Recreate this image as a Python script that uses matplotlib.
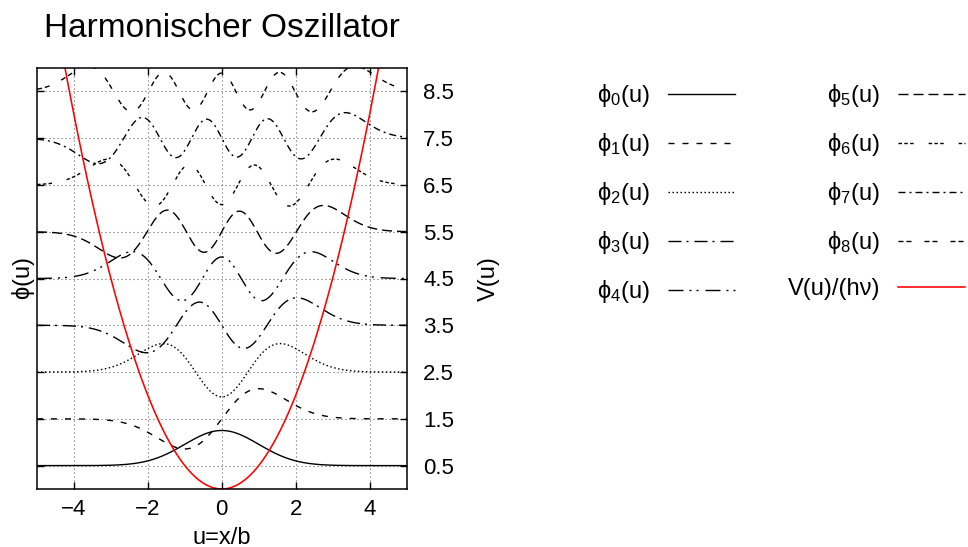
import numpy as np
import matplotlib
matplotlib.use("Agg")
import matplotlib.pyplot as plt
from math import factorial, pi, sqrt

plt.rcParams['font.family'] = ['Liberation Sans', 'DejaVu Sans']
plt.rcParams['mathtext.fontset'] = 'custom'
plt.rcParams['mathtext.rm'] = 'Liberation Sans'
plt.rcParams['mathtext.it'] = 'Liberation Sans'
plt.rcParams['lines.scale_dashes'] = False

# quantum numbers and energy levels E_n / (h nu) = n + 1/2
levels = [0, 1, 2, 3, 4, 5, 6, 7, 8]
energies = [0.5, 1.5, 2.5, 3.5, 4.5, 5.5, 6.5, 7.5, 8.5]
u_min, u_max = -5.0, 5.0
x_ticks = [-4, -2, 0, 2, 4]
y_ticks = [0.5, 1.5, 2.5, 3.5, 4.5, 5.5, 6.5, 7.5, 8.5]

PX = 0.72  # points per pixel at dpi 100
# dash patterns (in pixels) for phi_0 .. phi_8
dash_px = [
    None,
    (6, 8),
    (1.5, 2.5),
    (13, 5, 2, 6),
    (15, 6, 2, 5, 2, 7),
    (10, 5),
    (3.5, 2.3, 3.5, 2.3, 3.5, 15),
    (7, 4, 2, 4),
    (5, 3, 5, 13),
]


def hermite_function(n, u):
    h_prev = np.ones_like(u)
    if n == 0:
        h = h_prev
    else:
        h = 2 * u
        for k in range(1, n):
            h, h_prev = 2 * u * h - 2 * k * h_prev, h
    norm = 1.0 / sqrt(2 ** n * factorial(n) * sqrt(pi))
    return norm * h * np.exp(-u ** 2 / 2)


u = np.linspace(u_min, u_max, 1201)

fig = plt.figure(figsize=(9.68, 5.47), dpi=100)
ax = fig.add_axes([37 / 968, 1 - 489 / 547, (406.5 - 37) / 968, (489 - 68) / 547])

for n, e, d in zip(levels, energies, dash_px):
    ls = '-' if d is None else (0, tuple(v * PX for v in d))
    ax.plot(u, e + hermite_function(n, u), color='black', lw=1.0, ls=ls,
            label=r'$\mathrm{\phi}_{%d}$(u)' % n)
ax.plot(u, u ** 2 / 2, color='#ff0000', lw=1.15, label='V(u)/(hν)')

ax.set_xlim(u_min, u_max)
ax.set_ylim(0, 9)
ax.set_xticks(x_ticks)
ax.set_yticks(y_ticks)
ax.grid(True, color='#555555', lw=0.8, ls=(0, (1 * PX, 3 * PX)))
ax.tick_params(axis='both', direction='in', length=5, width=1,
               top=True, right=True, labelleft=False, labelsize=16)
ax.tick_params(axis='x', pad=7)
for s in ax.spines.values():
    s.set_linewidth(1.1)
ax.set_xlabel('u=x/b', fontsize=17, labelpad=5)
ax.set_ylabel(r'$\mathrm{\phi}$(u)', fontsize=17, labelpad=0)

ax2 = ax.twinx()
ax2.set_ylim(0, 9)
ax2.set_yticks(y_ticks)
ax2.set_yticklabels(['%.1f' % t for t in y_ticks])
ax2.tick_params(axis='y', direction='in', length=5, width=1, labelsize=16, pad=12)
ax2.set_ylabel('V(u)', fontsize=17, labelpad=17)
for s in ax2.spines.values():
    s.set_visible(False)

ax.set_title('Harmonischer Oszillator', fontsize=24, pad=22)

handles, labels = ax.get_legend_handles_labels()
legend_kw = dict(markerfirst=False, frameon=False, loc='upper right',
                 borderaxespad=0, borderpad=0, fontsize=17, labelspacing=0.93,
                 handlelength=2.84, handletextpad=0.75)
leg1 = fig.legend(handles[:5], labels[:5],
                  bbox_to_anchor=(735 / 968, 1 - 82 / 547), **legend_kw)
leg2 = fig.legend(handles[5:], labels[5:],
                  bbox_to_anchor=(965 / 968, 1 - 82 / 547), **legend_kw)

fig.savefig('out.png', dpi=100)
